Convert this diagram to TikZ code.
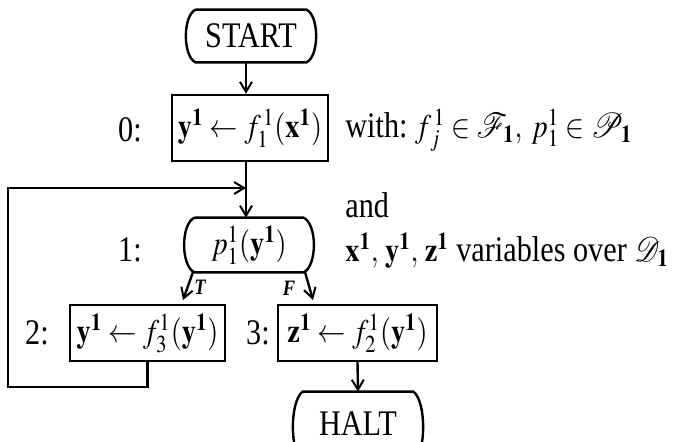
\documentclass[tikz,border=0pt]{standalone}
\usepackage{mathptmx}
\usepackage{mathrsfs}
\usepackage{graphicx}
\usepackage[no-math]{fontspec}
\setmainfont{Liberation Serif}[FakeStretch=0.84]
\usetikzlibrary{arrows.meta}
\tikzset{
  conn/.style={line width=1.2pt,-{Straight Barb[length=5pt,width=6pt,line width=1pt]}},
  line/.style={line width=1.2pt},
  boxnode/.style={draw,line width=1.2pt,minimum height=28pt,inner sep=0pt},
  termnode/.style={inner sep=0pt},
  lbl/.style={inner sep=0pt},
  side/.style={inner sep=0pt,anchor=west},
  tf/.style={inner sep=0pt,font=\fontsize{11}{12}\selectfont\bfseries\itshape}
}
\newcommand{\bx}[1]{\mathbf{#1}^{\mathbf{1}}}
\newcommand{\mth}[1]{\scalebox{0.86}[1]{\fontsize{16.5}{19}\selectfont$#1$}}
\begin{document}
\begin{tikzpicture}[x=0.5pt,y=-0.5pt,font=\fontsize{18}{21}\selectfont]
\useasboundingbox (0,0) rectangle (674,441);
\clip (0,0) rectangle (674,441);
% terminals and decision
\node[termnode,minimum width=55pt,minimum height=26pt] (start) at (251,36) {START};
\draw[line] (start.north west) -- (start.north east)
  .. controls +(13,6) and +(13,-6) .. (start.south east)
  -- (start.south west)
  .. controls +(-13,-6) and +(-13,6) .. (start.north west);
\node[boxnode,minimum width=78pt,minimum height=33pt] (b0) at (250,128) {\mth{\bx{y} \leftarrow f^{\,1}_{1}(\bx{x})}};
\node[lbl] (l0) at (130,130) {0:};
\coordinate (j) at (246,188);
\node[termnode,minimum width=54pt,minimum height=27pt] (dec) at (249,245) {\mth{p^{1}_{1}(\bx{y})}};
\draw[line] (dec.north west) -- (dec.north east)
  .. controls +(14,6) and +(14,-6) .. (dec.south east)
  -- (dec.south west)
  .. controls +(-14,-6) and +(-14,6) .. (dec.north west);
\node[lbl] (l1) at (130,250) {1:};
\node[boxnode,minimum width=77.5pt] (b2) at (147.5,333) {\mth{\bx{y} \leftarrow f^{1}_{3}(\bx{y})}};
\node[lbl] (l2) at (37,333) {2:};
\node[boxnode,minimum width=79.5pt] (b3) at (357.5,333) {\mth{\bx{z} \leftarrow f^{1}_{2}(\bx{y})}};
\node[lbl] (l3) at (258,333) {3:};
\node[termnode,minimum width=55pt,minimum height=35pt] (halt) at (358,427) {};
\node[lbl] (halttext) at (358,424) {HALT};
\draw[line] (halt.south west) .. controls +(-13,-10) and +(-13,10) .. (halt.north west)
  -- (halt.north east)
  .. controls +(13,10) and +(13,-10) .. (halt.south east);
% right-hand text
\node[side] (t1) at (345,130) {with:\ \mth{f^{\,1}_{\,j} \in \mathscr{F}_{\mathbf{1}},\ p^{1}_{1} \in \mathscr{P}_{\mathbf{1}}}};
\node[side] (t2) at (345,205) {and};
\node[side] (t3) at (345,250) {\mth{\bx{x},\,\bx{y},\,\bx{z}} variables over \mth{\mathscr{D}_{\mathbf{1}}}};
% connectors
\draw[conn] (start.south -| j) -- (b0.north -| j);
\draw[conn] (b0.south -| j) -- (dec.north -| j);
\coordinate (lp) at (8,387);
\draw[conn] (b2.south) -- (b2.south |- lp) -- (lp) |- (j);
\coordinate (tA) at (193,272);
\coordinate (tB) at (183,300);
\coordinate (fA) at (305,272);
\coordinate (fB) at (313,300);
\draw[conn] (tA) -- (tB);
\draw[conn] (fA) -- (fB);
\node[tf] (tl) at (200,287) {T};
\node[tf] (fl) at (289,288) {F};
\draw[conn] (b3.south) -- (halt.north);
\end{tikzpicture}
\end{document}
